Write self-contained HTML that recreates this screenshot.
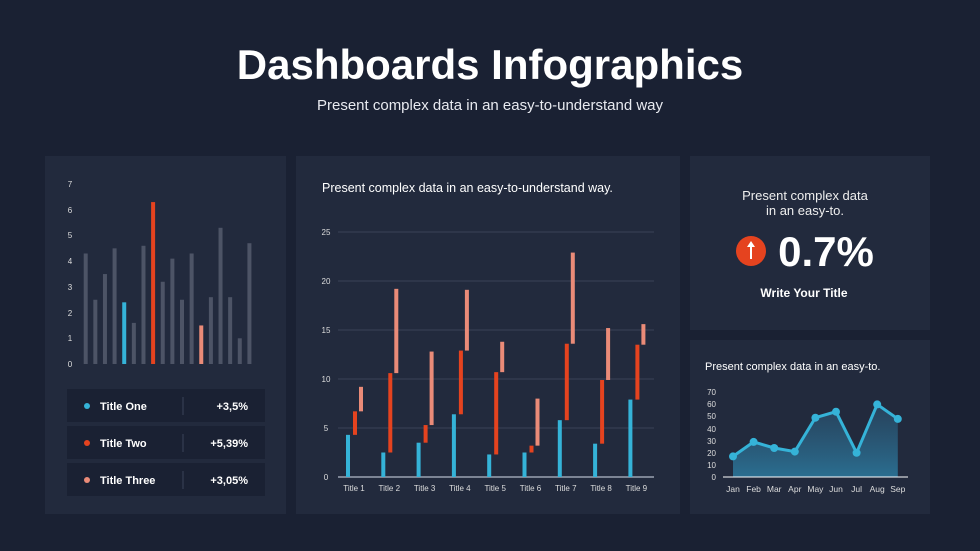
<!DOCTYPE html><html><head><style>
body{margin:0;width:980px;height:551px;background:#1a2133;font-family:"Liberation Sans",sans-serif;overflow:hidden;position:relative;color:#fff}
.p{position:absolute;background:#222a3d}
.t{position:absolute;white-space:nowrap}
</style></head><body>
<div class="t" style="left:0;width:980px;top:41px;text-align:center;font-size:42px;font-weight:bold">Dashboards Infographics</div>
<div class="t" style="left:0;width:980px;top:97px;text-align:center;font-size:15px;color:#e8eaf0">Present complex data in an easy-to-understand way</div>
<div class="p" style="left:45px;top:156px;width:241px;height:358px"></div>
<div class="p" style="left:296px;top:156px;width:384px;height:358px"></div>
<div class="p" style="left:690px;top:156px;width:240px;height:174px"></div>
<div class="p" style="left:690px;top:340px;width:240px;height:174px"></div>
<svg width="980" height="551" style="position:absolute;left:0;top:0" font-family="Liberation Sans, sans-serif">
<g fill="#ddd" font-size="8" text-anchor="middle">
<text x="70" y="367">0</text><text x="70" y="341">1</text><text x="70" y="316">2</text><text x="70" y="290">3</text><text x="70" y="264">4</text><text x="70" y="238">5</text><text x="70" y="213">6</text><text x="70" y="187">7</text>
</g>
<g id="lb"></g>
<g stroke="#3a4358" stroke-width="1">
<line x1="338" x2="654" y1="232" y2="232"/><line x1="338" x2="654" y1="281" y2="281"/><line x1="338" x2="654" y1="330" y2="330"/><line x1="338" x2="654" y1="379" y2="379"/><line x1="338" x2="654" y1="428" y2="428"/>
</g>
<line x1="338" x2="654" y1="477" y2="477" stroke="#9aa2b2" stroke-width="1.5"/>
<g fill="#ddd" font-size="8" text-anchor="middle">
<text x="326" y="480">0</text><text x="326" y="431">5</text><text x="326" y="382">10</text><text x="326" y="333">15</text><text x="326" y="284">20</text><text x="326" y="235">25</text>
</g>
<g id="mb" fill="#ddd" font-size="8" text-anchor="middle"></g>
<text x="322" y="192" fill="#fff" font-size="12.5">Present complex data in an easy-to-understand way.</text>
<text x="705" y="370" fill="#fff" font-size="11">Present complex data in an easy-to.</text>
<defs><linearGradient id="g" x1="0" y1="0" x2="0" y2="1"><stop offset="0" stop-color="#2a4d6a" stop-opacity=".7"/><stop offset="1" stop-color="#2a6e90"/></linearGradient></defs>
<g fill="#ddd" font-size="8" text-anchor="end">
<text x="716" y="480">0</text><text x="716" y="468">10</text><text x="716" y="456">20</text><text x="716" y="444">30</text><text x="716" y="432">40</text><text x="716" y="419">50</text><text x="716" y="407">60</text><text x="716" y="395">70</text>
</g>
<path d="M733 477 L733 456.4 L753.6 441.9 L774.2 448 L794.8 451.6 L815.4 417.7 L836 411.7 L856.6 452.8 L877.2 404.4 L897.8 418.9 L897.8 477Z" fill="url(#g)"/>
<polyline points="733,456.4 753.6,441.9 774.2,448 794.8,451.6 815.4,417.7 836,411.7 856.6,452.8 877.2,404.4 897.8,418.9" fill="none" stroke="#35b3d8" stroke-width="3"/>
<g fill="#35b3d8"><circle cx="733" cy="456.4" r="4"/><circle cx="753.6" cy="441.9" r="4"/><circle cx="774.2" cy="448" r="4"/><circle cx="794.8" cy="451.6" r="4"/><circle cx="815.4" cy="417.7" r="4"/><circle cx="836" cy="411.7" r="4"/><circle cx="856.6" cy="452.8" r="4"/><circle cx="877.2" cy="404.4" r="4"/><circle cx="897.8" cy="418.9" r="4"/></g>
<line x1="723" x2="908" y1="477" y2="477" stroke="#fff" stroke-width="1"/>
<g fill="#ddd" font-size="8.5" text-anchor="middle">
<text x="733" y="492">Jan</text><text x="753.6" y="492">Feb</text><text x="774.2" y="492">Mar</text><text x="794.8" y="492">Apr</text><text x="815.4" y="492">May</text><text x="836" y="492">Jun</text><text x="856.6" y="492">Jul</text><text x="877.2" y="492">Aug</text><text x="897.8" y="492">Sep</text>
</g>
<text x="805" y="200" fill="#eee" font-size="13" text-anchor="middle">Present complex data</text>
<text x="805" y="215" fill="#eee" font-size="13" text-anchor="middle">in an easy-to.</text>
<circle cx="751" cy="251" r="15" fill="#e5431f"/>
<line x1="751" y1="259" x2="751" y2="245" stroke="#fff" stroke-width="2"/><path d="M747 247 L751 241 L755 247Z" fill="#fff"/>
<text x="826" y="266" fill="#fff" font-size="42" font-weight="bold" text-anchor="middle">0.7%</text>
<text x="804" y="297" fill="#fff" font-size="12" font-weight="bold" text-anchor="middle">Write Your Title</text>
<g font-size="11" font-weight="bold" fill="#fff">
<rect x="67" y="389" width="198" height="33" fill="#1a2133"/><rect x="67" y="426" width="198" height="33" fill="#1a2133"/><rect x="67" y="463" width="198" height="33" fill="#1a2133"/>
<line x1="183" x2="183" y1="397" y2="415" stroke="#3a4358"/><line x1="183" x2="183" y1="434" y2="452" stroke="#3a4358"/><line x1="183" x2="183" y1="471" y2="489" stroke="#3a4358"/>
<circle cx="87" cy="406" r="3" fill="#35b3d8"/><circle cx="87" cy="443" r="3" fill="#e5431f"/><circle cx="87" cy="480" r="3" fill="#ea8b78"/>
<text x="100" y="410">Title One</text><text x="100" y="447">Title Two</text><text x="100" y="484">Title Three</text>
<g text-anchor="end"><text x="248" y="410">+3,5%</text><text x="248" y="447">+5,39%</text><text x="248" y="484">+3,05%</text></g>
</g>
</svg>
<script>
var ns="http://www.w3.org/2000/svg";
function r(g,x,y,w,h,c){var e=document.createElementNS(ns,"rect");e.setAttribute("x",x);e.setAttribute("y",y);e.setAttribute("width",w);e.setAttribute("height",h);e.setAttribute("fill",c);g.appendChild(e);}
var lb=document.getElementById("lb");
var v=[4.3,2.5,3.5,4.5,2.4,1.6,4.6,6.3,3.2,4.1,2.5,4.3,1.5,2.6,5.3,2.6,1.0,4.7];
v.forEach(function(a,i){var c=i==4?"#35b3d8":i==7?"#e5431f":i==12?"#ea8b78":"#4d5466";var x=85.7+i*9.63;r(lb,x-2,364-a*25.7,4,a*25.7,c);});
var mb=document.getElementById("mb");
var d=[[4.3,6.7,9.2],[2.5,10.6,19.2],[3.5,5.3,12.8],[6.4,12.9,19.1],[2.3,10.7,13.8],[2.5,3.2,8.0],[5.8,13.6,22.9],[3.4,9.9,15.2],[7.9,13.5,15.6]];
function Y(a){return 477-a*9.8;}
d.forEach(function(a,i){var cx=354+i*35.3;
r(mb,cx-8,Y(a[0]),4,a[0]*9.8,"#35b3d8");
r(mb,cx-1,Y(a[1]),4,(a[1]-a[0])*9.8,"#e5431f");
r(mb,cx+5,Y(a[2]),4,(a[2]-a[1])*9.8,"#ea8b78");
var t=document.createElementNS(ns,"text");t.setAttribute("x",cx);t.setAttribute("y",491);t.textContent="Title "+(i+1);mb.appendChild(t);});
</script>
</body></html>
